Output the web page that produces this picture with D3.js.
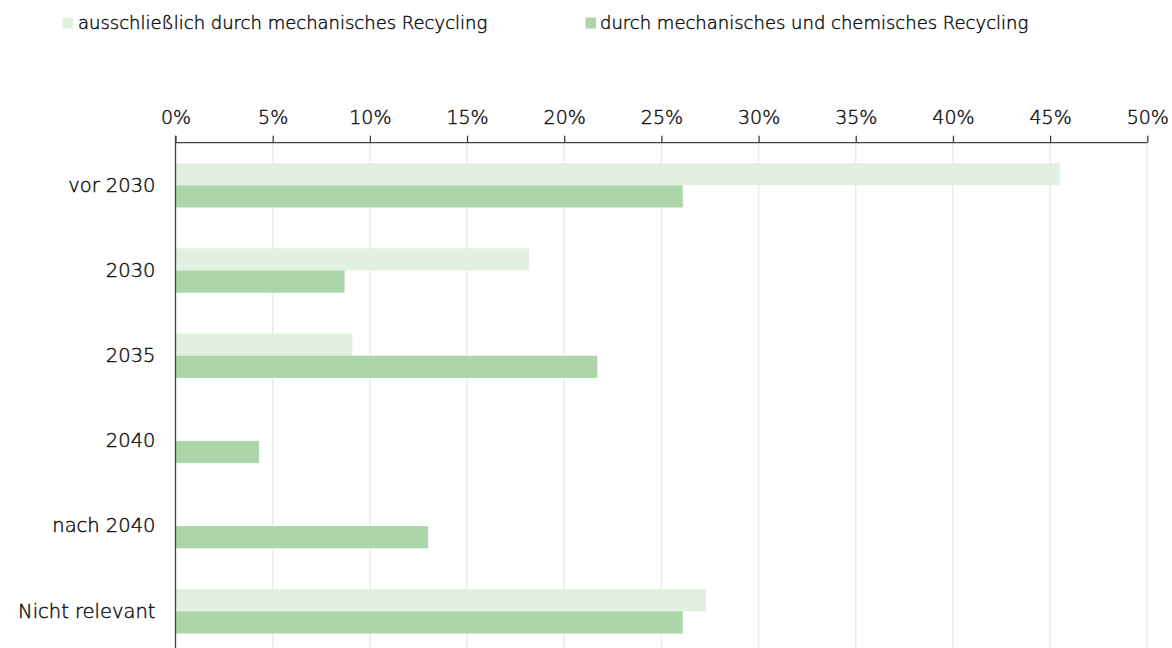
<!DOCTYPE html>
<html><head><meta charset="utf-8">
<script src="https://cdn.jsdelivr.net/npm/d3@7"></script>
<style>
body{margin:0;background:#fff;}
svg{display:block;}
text{font-family:"DejaVu Sans",sans-serif;fill:#111;stroke:#111;stroke-width:0.45px;}
</style></head>
<body><svg id="c" width="1172" height="648"></svg>
<script>
const categories = ["vor 2030","2030","2035","2040","nach 2040","Nicht relevant"];
const seriesNames = ["ausschließlich durch mechanisches Recycling","durch mechanisches und chemisches Recycling"];
const mechanical = [45.5,18.2,9.1,0,0,27.3];
const mechChem = [26.1,8.7,21.7,4.3,13.0,26.1];
const xTicks = [0,5,10,15,20,25,30,35,40,45,50];
const colors = ["#e2f0e2","#acd6a9"];

const svg = d3.select("#c");
const m = {left:175.5, top:142.7, width:971.8, height:511.2};
const x = d3.scaleLinear().domain([0,50]).range([m.left, m.left+m.width]);
const y = d3.scaleBand().domain(categories).range([m.top, m.top+m.height]).paddingInner(0.479).paddingOuter(0.2395);
const ys = d3.scaleBand().domain([0,1]).range([0,y.bandwidth()]);

// gridlines
svg.append("g").selectAll("line").data(xTicks.slice(1)).join("line")
  .attr("x1",d=>x(d)).attr("x2",d=>x(d)).attr("y1",m.top).attr("y2",648)
  .attr("stroke","#ececec").attr("stroke-width",1.5);

const data = categories.map((c,i)=>({c, vals:[mechanical[i], mechChem[i]]}));
const g = svg.append("g");
data.forEach(d=>{
  d.vals.forEach((v,k)=>{
    if(v<=0) return;
    g.append("rect").attr("x",x(0)).attr("y",y(d.c)+ys(k))
      .attr("width",x(v)-x(0)).attr("height",ys.bandwidth()).attr("fill",colors[k]);
  });
});

// top axis
const xAxis = d3.axisTop(x).tickValues(xTicks).tickFormat(d=>d+"%").tickSize(7).tickPadding(12);
const ax = svg.append("g").attr("transform",`translate(0,${m.top})`).call(xAxis);
ax.select(".domain").attr("stroke","#404040").attr("stroke-width",1.3).attr("d",`M${x(0)},0H${x(50)}`);
ax.selectAll(".tick line").attr("stroke","#404040").attr("stroke-width",1.3);
ax.selectAll(".tick text").attr("font-size",19).attr("font-family","DejaVu Sans").attr("font-weight",300).attr("fill","#111");

// left axis
const yAxis = d3.axisLeft(y).tickSize(0).tickPadding(20);
const ay = svg.append("g").attr("transform",`translate(${m.left},0)`).call(yAxis);
ay.select(".domain").attr("stroke","#404040").attr("stroke-width",1.3).attr("d",`M0,${m.top-7}V648`);
ay.selectAll(".tick text").attr("font-size",19.5).attr("font-family","DejaVu Sans").attr("font-weight",300).attr("fill","#111");

// legend
const leg = [{x:62.5, tx:78},{x:585.5, tx:600}];
seriesNames.forEach((n,k)=>{
  svg.append("rect").attr("x",leg[k].x).attr("y",17.5).attr("width",10.5).attr("height",11).attr("fill",colors[k]);
  svg.append("text").attr("x",leg[k].tx).attr("y",23).attr("dy","0.36em").attr("font-size",18).attr("font-weight",300).text(n);
});
</script></body></html>
